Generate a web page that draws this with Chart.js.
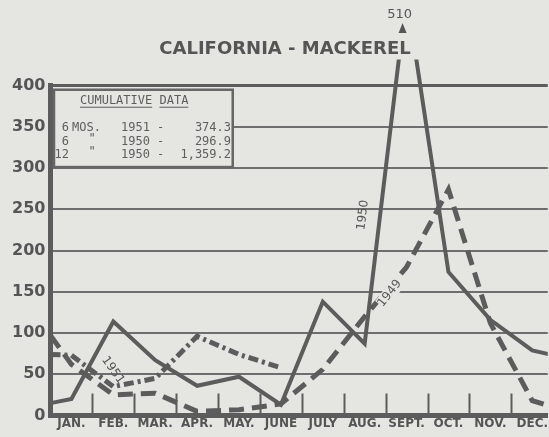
<!DOCTYPE html>
<html>
<head>
<meta charset="utf-8">
<title>California - Mackerel</title>
<script src="https://cdn.jsdelivr.net/npm/chart.js@4.4.1/dist/chart.umd.min.js"></script>
<style>
  body { margin: 0; background: #e5e5e2; }
  canvas { display: block; }
</style>
</head>
<body>
<canvas id="myChart" width="549" height="437"></canvas>
<script>
const paperColor = '#e5e5e2'
const inkColor = '#5c5c5c'
const textColor = '#555555'
const gridColor = '#6e6e6e'

// x runs 0..12, months sit on the half steps, the lines run out to both edges
const monthLabels = ['JAN.', 'FEB.', 'MAR.', 'APR.', 'MAY.', 'JUNE', 'JULY', 'AUG.', 'SEPT.', 'OCT.', 'NOV.', 'DEC.']
const monthPos = [0.5, 1.5, 2.5, 3.5, 4.5, 5.5, 6.5, 7.5, 8.5, 9.5, 10.5, 11.5]
const linePos = [0, 0.5, 1.5, 2.5, 3.5, 4.5, 5.5, 6.5, 7.5, 8.5, 9.5, 10.5, 11.5, 12]

// values (first and last = where the line meets the frame)
const catch1950 = [15, 20, 114, 67, 36, 47, 13, 138, 87, 510, 174, 116, 79, 73]
const catch1949 = [97, 62, 25, 27, 5, 7, 14, 56, 120, 180, 274, 112, 18, 10]
const catch1951 = [74, 73, 35, 45, 96, 74, 58]

const yMax = 400
const yStep = 50

const cumulativeTitle = ['CUMULATIVE', 'DATA']
const cumulativeRows = [
  ['6', 'MOS.', '1951 -', '374.3'],
  ['6', '"', '1950 -', '296.9'],
  ['12', '"', '1950 -', '1,359.2']
]
const peakLabel = '510'

function toPoints(values) {
  return values.map((v, i) => ({ x: linePos[i], y: v }))
}

const paperPlugin = {
  id: 'paper',
  afterLayout(chart) {
    // title in the original sits a little right of the page centre
    if (chart.titleBlock) chart.titleBlock.left = 21
  },
  beforeDraw(chart) {
    const c = chart.ctx
    c.save()
    c.fillStyle = paperColor
    c.fillRect(0, 0, chart.width, chart.height)
    c.restore()
  }
}

const decorPlugin = {
  id: 'decor',
  beforeDatasetsDraw(chart) {
    const xs = chart.scales.x
    const ys = chart.scales.y
    const c = chart.ctx
    const bottom = chart.chartArea.bottom

    c.save()
    // short month ticks standing on the base line
    c.strokeStyle = inkColor
    c.lineWidth = 2
    for (let v = 1; v < 12; v++) {
      const px = Math.round(xs.getPixelForValue(v)) + 0.5
      c.beginPath()
      c.moveTo(px, bottom)
      c.lineTo(px, bottom - 22)
      c.stroke()
    }

    // cumulative data box
    const bx = xs.getPixelForValue(0) + 3.5
    const bx2 = xs.getPixelForValue(4.35)
    const by = ys.getPixelForValue(395)
    const by2 = ys.getPixelForValue(300) - 1
    c.fillStyle = paperColor
    c.fillRect(bx, by, bx2 - bx, by2 - by)
    c.strokeStyle = '#666'
    c.lineWidth = 2.5
    c.strokeRect(bx, by, bx2 - bx, by2 - by)

    c.fillStyle = '#5e5e5e'
    c.font = '12px "DejaVu Sans Mono"'
    c.textBaseline = 'middle'
    c.textAlign = 'left'
    let tx = bx + 26
    const ty = by + 11
    c.lineWidth = 1
    c.strokeStyle = '#5e5e5e'
    cumulativeTitle.forEach(word => {
      const w = c.measureText(word).width
      c.fillText(word, tx, ty)
      c.beginPath()
      c.moveTo(tx, ty + 6.5)
      c.lineTo(tx + w, ty + 6.5)
      c.stroke()
      tx += w + c.measureText(' ').width
    })

    const rowY = [by + 38.5, by + 52, by + 65.5]
    cumulativeRows.forEach((row, i) => {
      c.textAlign = 'right'
      c.fillText(row[0], bx + 15, rowY[i])
      c.textAlign = row[1] === '"' ? 'center' : 'left'
      c.fillText(row[1], row[1] === '"' ? bx + 38 : bx + 18, rowY[i] - (row[1] === '"' ? 3 : 0))
      c.textAlign = 'left'
      c.fillText(row[2], bx + 67, rowY[i])
      c.textAlign = 'right'
      c.fillText(row[3], bx + 177, rowY[i])
    })
    c.restore()
  },
  afterDatasetsDraw(chart) {
    const xs = chart.scales.x
    const ys = chart.scales.y
    const c = chart.ctx
    c.save()
    c.fillStyle = textColor
    c.font = '12px "DejaVu Sans"'
    c.textAlign = 'center'
    c.textBaseline = 'middle'

    // year names written along the curves
    const tags = [
      ['1950', 7.46, 243, -83],
      ['1949', 8.1, 148, -52],
      ['1951', 1.49, 55, 55]
    ]
    tags.forEach(t => {
      c.save()
      c.translate(xs.getPixelForValue(t[1]), ys.getPixelForValue(t[2]))
      c.rotate(t[3] * Math.PI / 180)
      if (t[0] === '1949') {
        c.fillStyle = paperColor
        c.fillRect(-15, -7, 30, 14)
        c.fillStyle = textColor
      }
      c.fillText(t[0], 0, 0)
      c.restore()
    })

    // peak goes off the chart: arrow head and value
    const px = xs.getPixelForValue(8.5) - 4
    c.beginPath()
    c.moveTo(px, 23)
    c.lineTo(px + 4, 33)
    c.lineTo(px - 4, 33)
    c.closePath()
    c.fill()
    c.font = '13px "DejaVu Sans"'
    c.fillText(peakLabel, px - 3, 15)
    c.restore()
  }
}

const lineClip = { left: 0, top: 26, right: 0, bottom: 8 }

new Chart(document.getElementById('myChart'), {
  type: 'line',
  data: {
    datasets: [{
      label: '1950',
      data: toPoints(catch1950),
      borderColor: inkColor,
      borderWidth: 4,
      pointRadius: 0,
      tension: 0,
      clip: lineClip
    }, {
      label: '1949',
      data: toPoints(catch1949),
      borderColor: inkColor,
      borderWidth: 5,
      borderDash: [15, 8],
      pointRadius: 0,
      tension: 0,
      clip: lineClip
    }, {
      label: '1951',
      data: toPoints(catch1951),
      borderColor: inkColor,
      borderWidth: 5,
      borderDash: [10, 4, 3, 4],
      pointRadius: 0,
      tension: 0,
      clip: lineClip
    }]
  },
  options: {
    responsive: false,
    animation: false,
    layout: { padding: 0, autoPadding: false },
    plugins: {
      legend: { display: false },
      tooltip: { enabled: false },
      title: {
        display: true,
        text: 'CALIFORNIA - MACKEREL',
        color: textColor,
        font: { family: 'DejaVu Sans', size: 18, weight: 'bold', lineHeight: 1.2 },
        padding: { top: 39, bottom: 25 }
      }
    },
    scales: {
      x: {
        type: 'linear',
        min: 0,
        max: 11.87,
        grid: { display: false, drawTicks: false },
        border: { display: true, color: inkColor, width: 5 },
        ticks: {
          autoSkip: false,
          maxRotation: 0,
          padding: 1,
          color: textColor,
          font: { family: 'DejaVu Sans', size: 12, weight: 'bold' },
          callback: (value, index) => monthLabels[index]
        },
        afterBuildTicks: scale => {
          scale.ticks = monthPos.map(v => ({ value: v }))
        },
        afterFit: scale => { scale.height = 21.5 }
      },
      y: {
        min: 0,
        max: yMax,
        grid: {
          drawTicks: false,
          color: ctx => ctx.tick && ctx.tick.value === yMax ? inkColor : gridColor,
          lineWidth: ctx => ctx.tick && ctx.tick.value === yMax ? 3 : 2
        },
        border: { color: inkColor, width: 5 },
        ticks: {
          stepSize: yStep,
          padding: 5,
          color: textColor,
          font: { family: 'DejaVu Sans', size: 16, weight: 'bold' }
        },
        afterFit: scale => { scale.width = 50.5 }
      }
    }
  },
  plugins: [paperPlugin, decorPlugin]
})
</script>
</body>
</html>
